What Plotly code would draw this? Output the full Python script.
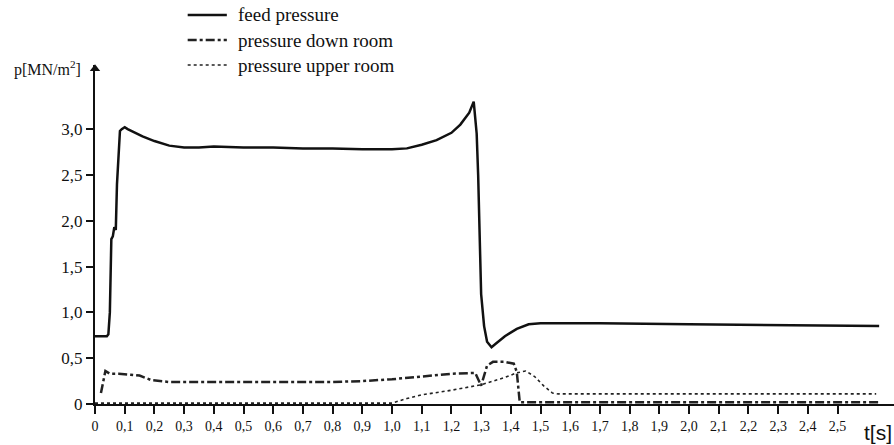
import plotly.graph_objects as go

# Time axis (s) and pressures (MN/m^2) for the three chambers
feed_t = [0.0, 0.04, 0.045, 0.05, 0.055, 0.06, 0.065, 0.07, 0.074, 0.078, 0.084, 0.09, 0.1,
          0.11, 0.13, 0.16, 0.2, 0.25, 0.3, 0.35, 0.4, 0.5, 0.6, 0.7, 0.8, 0.9, 1.0, 1.05,
          1.1, 1.15, 1.2, 1.23, 1.26, 1.275, 1.285, 1.29, 1.3, 1.31, 1.32, 1.335, 1.35,
          1.38, 1.42, 1.46, 1.5, 1.7, 2.0, 2.3, 2.64]
feed_p = [0.74, 0.74, 0.76, 1.0, 1.8, 1.83, 1.93, 1.9, 2.4, 2.6, 2.98, 3.0, 3.02,
          3.0, 2.97, 2.92, 2.87, 2.82, 2.80, 2.80, 2.81, 2.80, 2.80, 2.79, 2.79, 2.78, 2.78, 2.79,
          2.83, 2.88, 2.96, 3.05, 3.18, 3.30, 2.95, 2.5, 1.2, 0.85, 0.68, 0.62, 0.66,
          0.74, 0.82, 0.87, 0.88, 0.88, 0.87, 0.86, 0.85]

down_t = [0.02, 0.03, 0.035, 0.05, 0.08, 0.12, 0.15, 0.19, 0.25, 0.3, 0.4, 0.5, 0.6, 0.7,
          0.8, 0.9, 1.0, 1.1, 1.2, 1.28, 1.30, 1.32, 1.34, 1.38, 1.41, 1.42, 1.43, 1.45,
          1.6, 2.0, 2.3, 2.64]
down_p = [0.12, 0.3, 0.36, 0.33, 0.33, 0.32, 0.31, 0.26, 0.24, 0.24, 0.24, 0.24, 0.24, 0.24,
          0.24, 0.25, 0.27, 0.30, 0.33, 0.34, 0.2, 0.42, 0.46, 0.46, 0.44, 0.35, 0.02, 0.02,
          0.02, 0.02, 0.02, 0.02]

upper_t = [0.0, 1.0, 1.05, 1.1, 1.2, 1.3, 1.38, 1.42, 1.45, 1.48, 1.51, 1.54, 1.56, 1.8, 2.2, 2.63]
upper_p = [0.01, 0.01, 0.06, 0.1, 0.15, 0.21, 0.29, 0.34, 0.36, 0.3, 0.2, 0.12, 0.11, 0.11, 0.11, 0.11]

series_names = ["feed pressure", "pressure down room", "pressure upper room"]

x_ticks = [round(i * 0.1, 1) for i in range(26)]
x_labels = ["0"] + [f"{v:.1f}".replace(".", ",") for v in x_ticks[1:]]
y_ticks = [0, 0.5, 1.0, 1.5, 2.0, 2.5, 3.0]
y_labels = ["0", "0,5", "1,0", "1,5", "2,0", "2,5", "3,0"]

serif = "Liberation Serif, Times New Roman, serif"
ink = "#111"
styles = [dict(color=ink, width=2.5, dash="solid"),
          dict(color="#222", width=2.5, dash="dashdot"),
          dict(color="#222", width=1.6, dash="dot")]

fig = go.Figure()
for t, p, name, st in zip([feed_t, down_t, upper_t], [feed_p, down_p, upper_p],
                          series_names, styles):
    fig.add_trace(go.Scatter(x=t, y=p, mode="lines", name=name, line=st,
                             showlegend=False))

# Arrowhead at the top of the pressure axis
fig.add_trace(go.Scatter(x=[0], y=[3.66], mode="markers", showlegend=False,
                         hoverinfo="skip", cliponaxis=False,
                         marker=dict(symbol="triangle-up", size=9, color=ink)))

fig.update_layout(
    width=894, height=445,
    margin=dict(l=95, r=0, t=65, b=41),
    paper_bgcolor="white", plot_bgcolor="white",
    font=dict(family=serif, color=ink),
    xaxis=dict(range=[0, 2.69], showgrid=False, zeroline=False,
               showline=True, linecolor=ink, linewidth=2,
               tickmode="array", tickvals=x_ticks, ticktext=x_labels,
               ticks="outside", ticklen=8, tickwidth=2, tickcolor=ink,
               tickfont=dict(size=14, family=serif)),
    yaxis=dict(range=[0, 3.7], showgrid=False, zeroline=False,
               showline=True, linecolor=ink, linewidth=2,
               tickmode="array", tickvals=y_ticks, ticktext=y_labels,
               ticks="outside", ticklen=7, tickwidth=2, tickcolor=ink,
               tickfont=dict(size=17, family=serif)),
)

# Key above the plot: line sample plus label for each series
key_rows = [1.1475, 1.0737, 1.0]
for yk, name, st in zip(key_rows, series_names, styles):
    fig.add_shape(type="line", xref="paper", yref="paper", x0=0.116, x1=0.165,
                  y0=yk, y1=yk, line=st)
    fig.add_annotation(x=0.1765, y=yk, xref="paper", yref="paper", text=name,
                       showarrow=False, xanchor="left", yanchor="middle",
                       font=dict(size=19, family=serif))

# Axis captions
fig.add_annotation(x=-0.015, y=0.99, xref="paper", yref="paper", text="p[MN/m<sup>2</sup>]",
                   showarrow=False, xanchor="right", yanchor="middle",
                   font=dict(size=16, family=serif))
fig.add_annotation(x=1.0, y=-0.083, xref="paper", yref="paper", text="t[s]",
                   showarrow=False, xanchor="right", yanchor="middle",
                   font=dict(size=21, family="Liberation Sans, Arial, sans-serif"))

fig.write_html("out.html")
